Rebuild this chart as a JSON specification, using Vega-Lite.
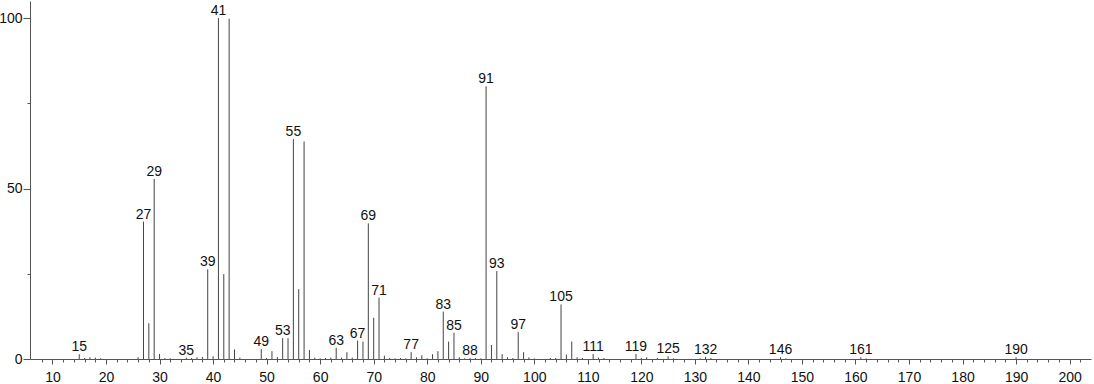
{
  "$schema": "https://vega.github.io/schema/vega-lite/v6.json",
  "width": 1061,
  "height": 358,
  "autosize": {"type": "none"},
  "padding": {"left": 30, "top": 1, "right": 3, "bottom": 25},
  "config": {"view": {"stroke": null}, "font": "Liberation Sans", "axis": {"grid": false}},
  "data": {"values": [
    {"mz": 15, "intensity": 1.4, "lab": 1},
    {"mz": 16, "intensity": 0.3, "lab": 0},
    {"mz": 17, "intensity": 0.5, "lab": 0},
    {"mz": 18, "intensity": 0.4, "lab": 0},
    {"mz": 19, "intensity": 0.2, "lab": 0},
    {"mz": 26, "intensity": 0.5, "lab": 0},
    {"mz": 27, "intensity": 40.3, "lab": 1},
    {"mz": 28, "intensity": 10.5, "lab": 0},
    {"mz": 29, "intensity": 52.8, "lab": 1},
    {"mz": 30, "intensity": 1.5, "lab": 0},
    {"mz": 31, "intensity": 0.3, "lab": 0},
    {"mz": 32, "intensity": 0.2, "lab": 0},
    {"mz": 35, "intensity": 0.4, "lab": 1},
    {"mz": 36, "intensity": 0.3, "lab": 0},
    {"mz": 37, "intensity": 0.5, "lab": 0},
    {"mz": 38, "intensity": 0.6, "lab": 0},
    {"mz": 39, "intensity": 26.3, "lab": 1},
    {"mz": 40, "intensity": 0.8, "lab": 0},
    {"mz": 41, "intensity": 100, "lab": 1},
    {"mz": 42, "intensity": 24.9, "lab": 0},
    {"mz": 43, "intensity": 99.8, "lab": 0},
    {"mz": 44, "intensity": 2.8, "lab": 0},
    {"mz": 45, "intensity": 0.4, "lab": 0},
    {"mz": 49, "intensity": 2.9, "lab": 1},
    {"mz": 50, "intensity": 0.3, "lab": 0},
    {"mz": 51, "intensity": 2.3, "lab": 0},
    {"mz": 52, "intensity": 0.6, "lab": 0},
    {"mz": 53, "intensity": 6.1, "lab": 1},
    {"mz": 54, "intensity": 6.1, "lab": 0},
    {"mz": 55, "intensity": 64.5, "lab": 1},
    {"mz": 56, "intensity": 20.5, "lab": 0},
    {"mz": 57, "intensity": 63.8, "lab": 0},
    {"mz": 58, "intensity": 2.6, "lab": 0},
    {"mz": 59, "intensity": 0.4, "lab": 0},
    {"mz": 60, "intensity": 0.2, "lab": 0},
    {"mz": 61, "intensity": 0.3, "lab": 0},
    {"mz": 62, "intensity": 0.4, "lab": 0},
    {"mz": 63, "intensity": 3.3, "lab": 1},
    {"mz": 64, "intensity": 0.4, "lab": 0},
    {"mz": 65, "intensity": 2.0, "lab": 0},
    {"mz": 66, "intensity": 0.4, "lab": 0},
    {"mz": 67, "intensity": 5.4, "lab": 1},
    {"mz": 68, "intensity": 5.1, "lab": 0},
    {"mz": 69, "intensity": 39.8, "lab": 1},
    {"mz": 70, "intensity": 12.1, "lab": 0},
    {"mz": 71, "intensity": 18.0, "lab": 1},
    {"mz": 72, "intensity": 1.0, "lab": 0},
    {"mz": 73, "intensity": 0.3, "lab": 0},
    {"mz": 74, "intensity": 0.2, "lab": 0},
    {"mz": 75, "intensity": 0.3, "lab": 0},
    {"mz": 76, "intensity": 0.2, "lab": 0},
    {"mz": 77, "intensity": 2.0, "lab": 1},
    {"mz": 78, "intensity": 0.5, "lab": 0},
    {"mz": 79, "intensity": 1.1, "lab": 0},
    {"mz": 80, "intensity": 0.2, "lab": 0},
    {"mz": 81, "intensity": 1.4, "lab": 0},
    {"mz": 82, "intensity": 2.3, "lab": 0},
    {"mz": 83, "intensity": 13.9, "lab": 1},
    {"mz": 84, "intensity": 5.1, "lab": 0},
    {"mz": 85, "intensity": 7.7, "lab": 1},
    {"mz": 86, "intensity": 0.5, "lab": 0},
    {"mz": 87, "intensity": 0.2, "lab": 0},
    {"mz": 88, "intensity": 0.3, "lab": 1},
    {"mz": 89, "intensity": 0.3, "lab": 0},
    {"mz": 90, "intensity": 0.2, "lab": 0},
    {"mz": 91, "intensity": 80.0, "lab": 1},
    {"mz": 92, "intensity": 4.1, "lab": 0},
    {"mz": 93, "intensity": 25.8, "lab": 1},
    {"mz": 94, "intensity": 1.4, "lab": 0},
    {"mz": 95, "intensity": 0.5, "lab": 0},
    {"mz": 96, "intensity": 0.3, "lab": 0},
    {"mz": 97, "intensity": 7.9, "lab": 1},
    {"mz": 98, "intensity": 2.0, "lab": 0},
    {"mz": 99, "intensity": 0.5, "lab": 0},
    {"mz": 100, "intensity": 0.2, "lab": 0},
    {"mz": 103, "intensity": 0.3, "lab": 0},
    {"mz": 104, "intensity": 0.3, "lab": 0},
    {"mz": 105, "intensity": 16.0, "lab": 1},
    {"mz": 106, "intensity": 1.3, "lab": 0},
    {"mz": 107, "intensity": 5.1, "lab": 0},
    {"mz": 108, "intensity": 0.5, "lab": 0},
    {"mz": 109, "intensity": 0.3, "lab": 0},
    {"mz": 111, "intensity": 1.5, "lab": 1},
    {"mz": 112, "intensity": 0.4, "lab": 0},
    {"mz": 113, "intensity": 0.3, "lab": 0},
    {"mz": 119, "intensity": 1.5, "lab": 1},
    {"mz": 120, "intensity": 0.3, "lab": 0},
    {"mz": 121, "intensity": 0.5, "lab": 0},
    {"mz": 123, "intensity": 0.3, "lab": 0},
    {"mz": 125, "intensity": 0.8, "lab": 1},
    {"mz": 126, "intensity": 0.2, "lab": 0},
    {"mz": 131, "intensity": 0.2, "lab": 0},
    {"mz": 132, "intensity": 0.6, "lab": 1},
    {"mz": 133, "intensity": 0.3, "lab": 0},
    {"mz": 146, "intensity": 0.5, "lab": 1},
    {"mz": 147, "intensity": 0.2, "lab": 0},
    {"mz": 161, "intensity": 0.5, "lab": 1},
    {"mz": 162, "intensity": 0.2, "lab": 0},
    {"mz": 190, "intensity": 0.5, "lab": 1}
  ]},
  "encoding": {
    "x": {
      "field": "mz", "type": "quantitative",
      "scale": {"domain": [5.8, 204], "nice": false, "zero": false},
      "axis": {
        "title": null,
        "values": [8,10,12,14,16,18,20,22,24,26,28,30,32,34,36,38,40,42,44,46,48,50,52,54,56,58,60,62,64,66,68,70,72,74,76,78,80,82,84,86,88,90,92,94,96,98,100,102,104,106,108,110,112,114,116,118,120,122,124,126,128,130,132,134,136,138,140,142,144,146,148,150,152,154,156,158,160,162,164,166,168,170,172,174,176,178,180,182,184,186,188,190,192,194,196,198,200,202],
        "labelExpr": "datum.value % 10 === 0 ? datum.label : ''",
        "tickSize": {"condition": {"test": "datum.value % 10 === 0", "value": 5}, "value": 3},
        "domainColor": "#555", "tickColor": "#555",
        "labelFontSize": 14, "labelColor": "#111", "labelPadding": 6,
        "labelOverlap": false, "labelFlush": false
      }
    },
    "y": {
      "field": "intensity", "type": "quantitative",
      "scale": {"domain": [0, 105], "nice": false},
      "axis": {
        "title": null,
        "values": [0, 25, 50, 75, 100],
        "labelExpr": "datum.value % 50 === 0 ? datum.label : ''",
        "tickSize": {"condition": {"test": "datum.value % 50 === 0", "value": 7}, "value": 3},
        "domainColor": "#555", "tickColor": "#555",
        "labelFontSize": 14, "labelColor": "#111", "labelPadding": 1,
        "labelOverlap": false
      }
    }
  },
  "layer": [
    {
      "mark": {"type": "rule", "color": "#444", "strokeWidth": 1},
      "encoding": {"y2": {"datum": 0}}
    },
    {
      "transform": [{"filter": "datum.lab === 1"}],
      "mark": {"type": "text", "baseline": "alphabetic", "dy": -3, "fontSize": 14, "color": "#111"},
      "encoding": {
        "text": {"field": "mz", "type": "quantitative", "format": "d"}
      }
    }
  ]
}
